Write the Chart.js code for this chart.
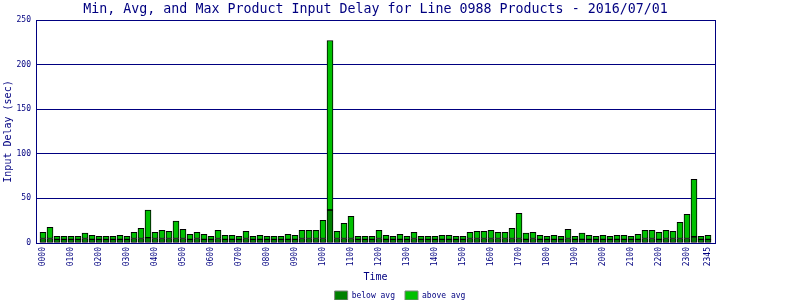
<!DOCTYPE html>
<html><head><meta charset="utf-8">
<script src="https://cdn.jsdelivr.net/npm/chart.js@4"></script>
<style>html,body{margin:0;padding:0;background:#fff}#wrap{width:800px;height:300px}</style>
</head><body><div id="wrap"><canvas id="c" width="800" height="300"></canvas></div>
<script>
const times = [
"0000","0015","0030","0045","0100","0115","0130","0145","0200","0215","0230","0245",
"0300","0315","0330","0345","0400","0415","0430","0445","0500","0515","0530","0545",
"0600","0615","0630","0645","0700","0715","0730","0745","0800","0815","0830","0845",
"0900","0915","0930","0945","1000","1015","1030","1045","1100","1115","1130","1145",
"1200","1215","1230","1245","1300","1315","1330","1345","1400","1415","1430","1445",
"1500","1515","1530","1545","1600","1615","1630","1645","1700","1715","1730","1745",
"1800","1815","1830","1845","1900","1915","1930","1945","2000","2015","2030","2045",
"2100","2115","2130","2145","2200","2215","2230","2245","2300","2315","2330","2345"];
const tickLabels = ["0000","0100","0200","0300","0400","0500","0600","0700","0800","0900",
"1000","1100","1200","1300","1400","1500","1600","1700","1800","1900","2000","2100","2200","2300","2345"];
const avgDelay = [
5,5,4,4,4,4,5,4,4,4,4,4,4,5,5,6,5,5,5,5,
5,4,5,4,4,5,4,4,4,5,4,4,4,4,4,4,4,5,5,5,
5,37,5,5,5,4,4,4,5,4,4,4,4,5,4,4,4,4,4,4,
4,5,5,5,5,5,5,5,5,4,5,4,4,4,4,5,4,4,4,4,
4,4,4,4,4,4,5,5,4,5,5,5,5,7,4,4];
const maxDelay = [
12,17.6,7.5,7.5,7.5,7.5,11,8.6,7.5,7.5,7.5,8.6,7.5,12,16.4,37,12,14.2,13.1,24.5,
15.3,9.7,12,9.7,7.5,14.2,8.6,8.6,7.5,13.1,7.5,8.6,7.5,7.5,7.5,9.7,8.6,14.2,14.2,14.2,
25.4,227,13.1,22,29.9,7.5,7.5,7.5,14.2,8.6,7.5,9.7,7.5,12,7.5,7.5,7.5,8.6,8.6,7.5,
7.5,12,13.1,13.1,14.2,12,12,16.4,33.3,11,12,8.6,7.5,8.6,7.5,15.3,7.5,11.2,8.6,7.5,
8.6,7.5,8.6,8.6,7.5,9.7,14.2,14.2,12,14.2,13.1,23.2,32.1,71.4,7.5,8.6];
const yTicks = [0,50,100,150,200,250];

const NAVY = '#000080';
const MONO = "'DejaVu Sans Mono', monospace";
const tickIdx = tickLabels.map(l => times.indexOf(l));

const barCommon = {borderColor:'#000000', borderWidth:1, borderSkipped:false, grouped:false, barThickness:6};

new Chart(document.getElementById('c'), {
  type: 'bar',
  data: { datasets: [
    Object.assign({ label:'below avg', backgroundColor:'#008000',
      data: times.map((t,i)=>({x:i, y:avgDelay[i]})) }, barCommon),
    Object.assign({ label:'above avg', backgroundColor:'#00C000',
      data: times.map((t,i)=>({x:i, y:[avgDelay[i], maxDelay[i]]})) }, barCommon)
  ]},
  options: {
    responsive:false, animation:false, devicePixelRatio:1,
    layout:{padding:0},
    plugins: {
      title: {display:true, text:'Min, Avg, and Max Product Input Delay for Line 0988 Products - 2016/07/01',
        color:NAVY, font:{family:MONO, size:13.3, weight:'normal', lineHeight:16/13.3}, padding:{top:2,bottom:2}},
      legend: {position:'bottom', maxHeight:19, labels:{font:{family:MONO,size:8}, color:NAVY, boxWidth:13, boxHeight:9, padding:10,
        generateLabels(chart){
          const items = Chart.defaults.plugins.legend.labels.generateLabels(chart);
          items.forEach(it=>{ it.strokeStyle='#808080'; it.lineWidth=1; });
          return items;
        }}},
      tooltip:{enabled:false}
    },
    scales: {
      x: { type:'linear', min:-1, max:96, offset:false,
        grid:{display:false, drawTicks:false}, border:{color:NAVY, width:1},
        afterBuildTicks(s){ s.ticks = tickIdx.map(v=>({value:v})); },
        ticks:{autoSkip:false, minRotation:90, maxRotation:90, color:NAVY, font:{family:MONO,size:8}, padding:4,
          callback:(v,i)=>tickLabels[i]},
        title:{display:true, text:'Time', color:NAVY, font:{family:MONO,size:10, lineHeight:0.8}, padding:{top:0,bottom:0}},
        afterFit(s){ const lh = s.chart.legend ? s.chart.legend.height : 0; s.height = 57 - lh; }
      },
      y: { min:0, max:250,
        afterBuildTicks(s){ s.ticks = yTicks.map(v=>({value:v})); },
        grid:{color:NAVY, lineWidth:1, drawTicks:false}, border:{color:NAVY, width:1},
        ticks:{color:NAVY, font:{family:MONO,size:8}, padding:5},
        title:{display:true, text:'Input Delay (sec)', color:NAVY, font:{family:MONO,size:10}, padding:{top:2,bottom:0}},
        afterFit(s){ s.width = 36; }
      },
      y2: { position:'right', min:0, max:1,
        grid:{drawOnChartArea:false, drawTicks:false}, border:{color:NAVY, width:1},
        ticks:{display:false},
        afterFit(s){ s.width = 85; }
      }
    }
  },
  plugins: [{ id:'titleOverPlot', afterLayout(chart){
    const t = chart.titleBlock;
    if (t) { t.left = chart.chartArea.left; t.right = chart.chartArea.right; }
  }}]
});
</script></body></html>
